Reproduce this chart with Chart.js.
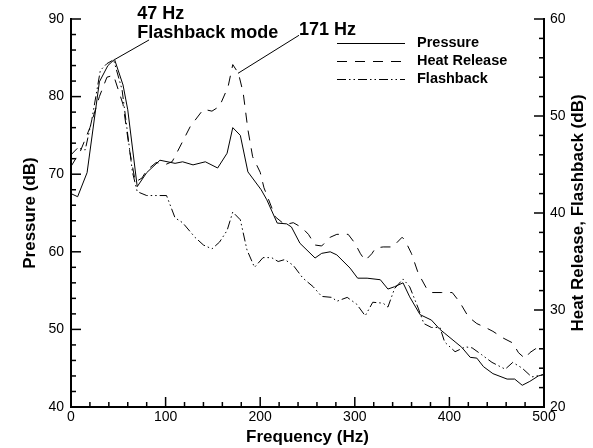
<!DOCTYPE html>
<html lang="en">
<head>
    <meta charset="UTF-8">
    <title>Pressure / Heat Release / Flashback spectra</title>
    <script src="https://cdn.jsdelivr.net/npm/chart.js"></script>
    <style>
        html, body { margin: 0; padding: 0; background: #fff; }
        #wrap { width: 593px; height: 448px; }
    </style>
</head>
<body>
    <div id="wrap">
        <canvas id="spectrumChart" width="593" height="448"></canvas>
    </div>

    <script>
        // Pressure (left axis, dB)
        const freqPressure = [0, 7, 17, 30, 39, 46, 55, 60, 70, 80, 94, 110, 118, 129, 142, 155, 165, 171, 179, 187,
            201, 207, 218, 228, 233, 242, 258, 265, 274, 281, 295, 303, 313, 327, 335, 342, 351, 358, 369, 381,
            390, 395, 406, 413, 422, 429, 436, 446, 461, 469, 477, 485, 494, 500];
        const pressure = [67.5, 67.1, 70.2, 81.9, 84.0, 84.8, 81.5, 78.3, 68.4, 70.2, 71.8, 71.4, 71.6, 71.2, 71.6, 70.8, 72.7, 76.0, 75.0, 70.3,
            68.0, 66.7, 63.7, 63.6, 63.2, 61.1, 59.2, 59.8, 60.0, 59.6, 57.9, 56.6, 56.6, 56.4, 55.2, 55.5, 56.0, 54.2, 51.9, 51.2,
            50.0, 49.5, 48.4, 47.7, 46.4, 46.3, 45.2, 44.3, 43.6, 43.6, 42.8, 43.3, 44.0, 44.2];

        // Heat release (right axis, dB)
        const freqHeat = [0, 10, 20, 30, 38, 45, 55, 62, 68, 75, 80, 90, 100, 107, 115, 126, 140, 149, 157, 166,
            171, 177, 182, 187, 192, 200, 204, 216, 226, 235, 244, 251, 258, 265, 274, 281, 293, 300, 306, 311,
            318, 322, 330, 340, 350, 353, 360, 367, 376, 381, 392, 403, 411, 420, 429, 438, 446, 457, 467, 473,
            480, 485, 491, 500];
        const heatRelease = [44.8, 46.4, 48.8, 52.0, 54.0, 54.2, 51.2, 46.4, 43.2, 43.6, 44.4, 45.2, 45.0, 45.3, 46.8, 48.9, 50.7, 50.5, 51.0, 53.0,
            55.3, 54.4, 52.4, 48.6, 45.8, 44.2, 42.6, 39.6, 38.8, 39.0, 38.5, 37.8, 36.7, 36.6, 37.5, 37.8, 37.8, 36.9, 35.8, 35.1,
            35.8, 36.4, 36.5, 36.5, 37.5, 37.2, 35.8, 33.8, 32.2, 31.8, 31.8, 31.8, 30.8, 29.3, 28.6, 28.2, 27.8, 27.1, 26.6, 25.6,
            25.0, 25.6, 26.0, 26.0];

        // Flashback (right axis, dB)
        const freqFlash = [0, 7, 15, 22, 31, 38, 45, 54, 65, 70, 80, 101, 110, 118, 131, 140, 149, 157, 165, 171,
            179, 186, 194, 203, 212, 219, 226, 235, 245, 256, 265, 276, 281, 292, 302, 311, 319, 330, 335, 342,
            351, 358, 367, 373, 381, 390, 395, 406, 417, 424, 434, 445, 459, 467, 477, 487, 498, 500];
        const flashback = [46.0, 46.7, 46.5, 49.6, 54.7, 55.4, 55.8, 52.7, 44.2, 42.2, 41.8, 41.8, 39.5, 39.0, 37.5, 36.7, 36.3, 37.0, 38.2, 40.1,
            39.3, 36.2, 34.4, 35.4, 35.4, 35.0, 35.2, 34.6, 33.3, 32.4, 31.4, 31.3, 30.9, 31.3, 30.6, 29.4, 30.8, 30.7, 30.3, 32.2,
            33.2, 32.4, 30.2, 28.6, 28.2, 28.2, 26.7, 25.7, 26.2, 26.1, 25.4, 24.6, 23.9, 24.6, 24.0, 23.1, 23.3, 23.4];

        // axis ticks
        const xTicks = [0, 100, 200, 300, 400, 500];
        const leftTicks = [40, 50, 60, 70, 80, 90];
        const rightTicks = [20, 30, 40, 50, 60];

        const FONT = "'Liberation Sans', Arial, sans-serif";
        Chart.defaults.font.family = FONT;
        Chart.defaults.color = '#000';

        function toPoints(xs, ys) {
            return xs.map((x, i) => ({ x: x, y: ys[i] }));
        }

        // white background
        const whiteBg = {
            id: 'whiteBg',
            beforeDraw(chart) {
                const ctx = chart.ctx;
                ctx.save();
                ctx.fillStyle = '#fff';
                ctx.fillRect(0, 0, chart.width, chart.height);
                ctx.restore();
            }
        };

        // inward major/minor tick marks
        const innerTicks = {
            id: 'innerTicks',
            afterDraw(chart) {
                const ctx = chart.ctx;
                const a = chart.chartArea;
                ctx.save();
                ctx.strokeStyle = '#000';
                ctx.lineWidth = 1.5;
                const sx = chart.scales.x, sy = chart.scales.y, sy2 = chart.scales.y2;
                for (let v = 0; v <= 500; v += 20) {
                    const px = sx.getPixelForValue(v);
                    const len = v % 100 === 0 ? 10 : 5;
                    ctx.beginPath();
                    ctx.moveTo(px, a.bottom);
                    ctx.lineTo(px, a.bottom - len);
                    ctx.stroke();
                }
                for (let v = 40; v <= 90; v += 2) {
                    const py = sy.getPixelForValue(v);
                    const len = v % 10 === 0 ? 10 : 5;
                    ctx.beginPath();
                    ctx.moveTo(a.left, py);
                    ctx.lineTo(a.left + len, py);
                    ctx.stroke();
                }
                for (let v = 20; v <= 60; v += 2) {
                    const py = sy2.getPixelForValue(v);
                    const len = v % 10 === 0 ? 10 : 5;
                    ctx.beginPath();
                    ctx.moveTo(a.right, py);
                    ctx.lineTo(a.right - len, py);
                    ctx.stroke();
                }
                ctx.restore();
            }
        };

        // right axis title, reading bottom to top like the left one
        const rightTitle = {
            id: 'rightTitle',
            afterDraw(chart) {
                const ctx = chart.ctx;
                const a = chart.chartArea;
                ctx.save();
                ctx.translate(578, (a.top + a.bottom) / 2);
                ctx.rotate(-Math.PI / 2);
                ctx.font = 'bold 17px ' + FONT;
                ctx.fillStyle = '#000';
                ctx.textAlign = 'center';
                ctx.textBaseline = 'middle';
                ctx.fillText('Heat Release, Flashback (dB)', 0, 0);
                ctx.restore();
            }
        };

        // legend in the upper right
        const lineLegend = {
            id: 'lineLegend',
            afterDraw(chart) {
                const ctx = chart.ctx;
                ctx.save();
                ctx.font = 'bold 14.5px ' + FONT;
                ctx.textBaseline = 'middle';
                ctx.fillStyle = '#000';
                chart.data.datasets.forEach((ds, i) => {
                    const y = 43 + i * 18;
                    ctx.strokeStyle = '#000';
                    ctx.lineWidth = 1;
                    ctx.setLineDash(ds.borderDash || []);
                    ctx.beginPath();
                    ctx.moveTo(337, y + 0.5);
                    ctx.lineTo(405, y + 0.5);
                    ctx.stroke();
                    ctx.setLineDash([]);
                    ctx.fillText(ds.label, 417, y);
                });
                ctx.restore();
            }
        };

        // peak labels with leader lines
        const peakNotes = {
            id: 'peakNotes',
            afterDraw(chart) {
                const ctx = chart.ctx;
                const sx = chart.scales.x, sy = chart.scales.y;
                ctx.save();
                ctx.strokeStyle = '#000';
                ctx.lineWidth = 1;
                ctx.beginPath();
                ctx.moveTo(sx.getPixelForValue(46.5), sy.getPixelForValue(84.8));
                ctx.lineTo(sx.getPixelForValue(82.5), sy.getPixelForValue(87.3));
                ctx.moveTo(sx.getPixelForValue(176.5), sy.getPixelForValue(83.0));
                ctx.lineTo(sx.getPixelForValue(241), sy.getPixelForValue(87.9));
                ctx.stroke();
                ctx.font = 'bold 18px ' + FONT;
                ctx.fillStyle = '#000';
                ctx.textBaseline = 'middle';
                ctx.fillText('47 Hz', sx.getPixelForValue(70), 14);
                ctx.fillText('Flashback mode', sx.getPixelForValue(70), 33);
                ctx.fillText('171 Hz', sx.getPixelForValue(241), 30);
                ctx.restore();
            }
        };

        const tickFont = { size: 14 };
        const titleFont = { size: 17, weight: 'bold' };

        new Chart(document.getElementById('spectrumChart'), {
            type: 'line',
            data: {
                datasets: [
                    {
                        label: 'Pressure',
                        data: toPoints(freqPressure, pressure),
                        yAxisID: 'y',
                        borderColor: '#000',
                        borderWidth: 1,
                        borderDash: [],
                        pointRadius: 0,
                        tension: 0,
                        fill: false
                    },
                    {
                        label: 'Heat Release',
                        data: toPoints(freqHeat, heatRelease),
                        yAxisID: 'y2',
                        borderColor: '#000',
                        borderWidth: 1,
                        borderDash: [10, 8],
                        pointRadius: 0,
                        tension: 0,
                        fill: false
                    },
                    {
                        label: 'Flashback',
                        data: toPoints(freqFlash, flashback),
                        yAxisID: 'y2',
                        borderColor: '#000',
                        borderWidth: 1,
                        borderDash: [9, 3, 1.5, 3, 1.5, 3],
                        pointRadius: 0,
                        tension: 0,
                        fill: false
                    }
                ]
            },
            options: {
                responsive: false,
                animation: false,
                layout: { padding: { top: 19, left: 0, right: 0, bottom: 0 } },
                plugins: {
                    legend: { display: false },
                    tooltip: { enabled: false }
                },
                scales: {
                    x: {
                        type: 'linear',
                        min: 0,
                        max: 500,
                        afterBuildTicks: s => { s.ticks = xTicks.map(v => ({ value: v })); },
                        afterFit: s => { s.height = 41; },
                        grid: { display: false, drawTicks: false },
                        border: { display: true, width: 2, color: '#000' },
                        ticks: { font: tickFont, padding: 2, maxRotation: 0, autoSkip: false },
                        title: { display: true, text: 'Frequency (Hz)', font: titleFont, padding: { top: 0, bottom: 0 } }
                    },
                    y: {
                        position: 'left',
                        min: 40,
                        max: 90,
                        afterBuildTicks: s => { s.ticks = leftTicks.map(v => ({ value: v })); },
                        afterFit: s => { s.width = 71; },
                        grid: { display: false, drawTicks: false },
                        border: { display: true, width: 2, color: '#000' },
                        ticks: { font: tickFont, padding: 7, autoSkip: false },
                        title: { display: true, text: 'Pressure (dB)', font: titleFont, padding: { top: 20, bottom: 0 } }
                    },
                    y2: {
                        position: 'right',
                        min: 20,
                        max: 60,
                        afterBuildTicks: s => { s.ticks = rightTicks.map(v => ({ value: v })); },
                        afterFit: s => { s.width = 49; },
                        grid: { display: false, drawTicks: false },
                        border: { display: true, width: 2, color: '#000' },
                        ticks: { font: tickFont, padding: 6, autoSkip: false },
                        title: { display: false }
                    }
                }
            },
            plugins: [whiteBg, innerTicks, rightTitle, lineLegend, peakNotes]
        });
    </script>
</body>
</html>
